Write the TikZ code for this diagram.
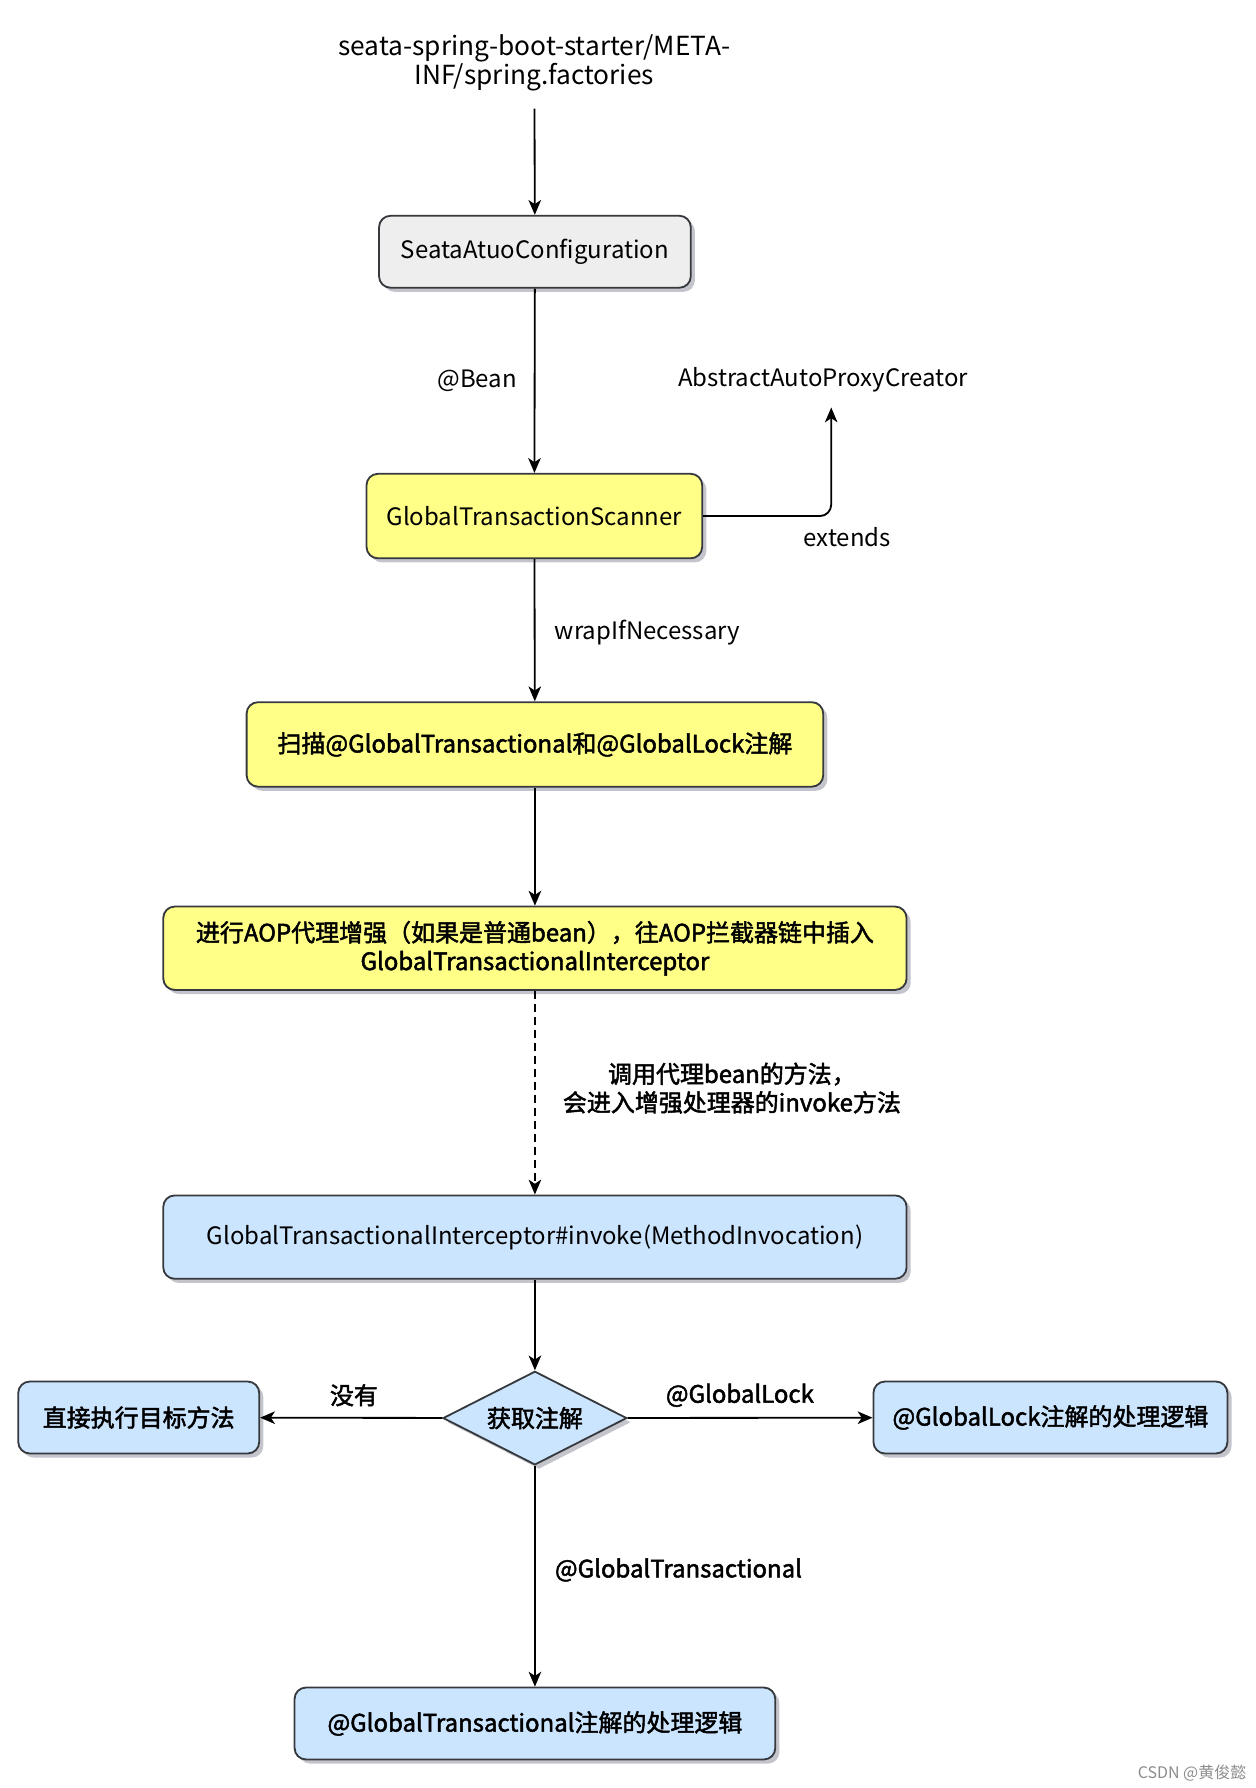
\documentclass[tikz,border=0pt]{standalone}
\usepackage{fontspec}
\setmainfont{Noto Sans CJK SC}
\newfontface\heavyface{Noto Sans CJK SC}[FakeBold=2]
\usetikzlibrary{shapes.geometric,arrows.meta,shadows}
\definecolor{boxgray}{HTML}{EEEEEE}
\definecolor{boxyellow}{HTML}{FFFF88}
\definecolor{boxblue}{HTML}{CCE5FF}
\definecolor{boxline}{HTML}{36393D}
\definecolor{shadowgray}{HTML}{3A3F55}

\begin{document}
\begin{tikzpicture}[x=0.5pt,y=-0.5pt,
    font=\fontsize{10.5}{12.5}\selectfont,
    every node/.style={align=center},
    box/.style={draw=boxline,line width=0.8pt,rounded corners=5pt,inner sep=0pt,
        drop shadow={shadow xshift=1.8pt,shadow yshift=-1.8pt,opacity=0.3,fill=shadowgray}},
    graybox/.style={box,fill=boxgray},
    yellowbox/.style={box,fill=boxyellow},
    bluebox/.style={box,fill=boxblue},
    decision/.style={diamond,aspect=2,draw=boxline,line width=0.8pt,fill=boxblue,inner sep=0pt,
        drop shadow={shadow xshift=1.8pt,shadow yshift=-1.8pt,opacity=0.3,fill=shadowgray}},
    flow/.style={line width=0.8pt,-{Stealth[length=6.5pt,width=5.5pt,inset=1.8pt]}},
    hint/.style={font=\heavyface\fontsize{10.5}{12.5}\selectfont}]
 \useasboundingbox (0,0) rectangle (1100,1566);

 \node[font=\fontsize{11.5}{13}\selectfont] (factories) at (468,55) {seata-spring-boot-starter/META-\\INF/spring.factories};
 \node[graybox,minimum width=136.5pt,minimum height=31.5pt] (conf) at (468.5,220.5) {SeataAtuoConfiguration};
 \node[yellowbox,minimum width=147pt,minimum height=37pt] (scanner) at (468,452) {GlobalTransactionScanner};
 \node (proxy) at (721,333) {AbstractAutoProxyCreator};
 \node[yellowbox,hint,minimum width=252.5pt,minimum height=37pt] (scan) at (468.5,652) {扫描@GlobalTransactional和@GlobalLock注解};
 \node[yellowbox,hint,minimum width=325.5pt,minimum height=36.5pt] (aop) at (468.5,830.5)
     {进行AOP代理增强（如果是普通bean），往AOP拦截器链中插入\\GlobalTransactionalInterceptor};
 \node[bluebox,minimum width=325.5pt,minimum height=36.5pt] (invoke) at (468.5,1083.5)
     {GlobalTransactionalInterceptor\#invoke(MethodInvocation)};
 \node[decision,hint,minimum width=80.5pt,minimum height=41pt] (getanno) at (468.5,1242) {获取注解};
 \node[bluebox,hint,minimum width=105.5pt,minimum height=31.5pt] (direct) at (121.5,1241.5) {直接执行目标方法};
 \node[bluebox,hint,minimum width=155pt,minimum height=31.5pt] (lock) at (920,1241.5) {@GlobalLock注解的处理逻辑};
 \node[bluebox,hint,minimum width=210.5pt,minimum height=31.5pt] (trans) at (468.5,1509.5) {@GlobalTransactional注解的处理逻辑};

 \draw[flow,shorten <=4pt] (factories) -- (conf);
 \draw[flow] (conf) -- (scanner) node[pos=.5,left=4pt] {@Bean};
 \draw[flow,rounded corners=5pt,shorten >=3pt] (scanner.east) -| ([xshift=3.5pt]proxy.south);
 \node at (742,470) {extends};
 \draw[flow] (scanner) -- (scan);
 \node[anchor=west] at (479,554) {wrapIfNecessary};
 \draw[flow] (scan) -- (aop);
 \draw[flow,dash pattern={on 3.5pt off 2.2pt}] (aop) -- (invoke);
 \node[hint] at (641,953) {调用代理bean的方法，\\会进入增强处理器的invoke方法};
 \draw[flow] (invoke) -- (getanno);
 \draw[flow] (getanno) -- (direct);
 \node[hint] at (310,1222) {没有};
 \draw[flow] (getanno) -- (lock);
 \node[hint] at (648,1222) {@GlobalLock};
 \draw[flow] (getanno) -- (trans);
 \node[hint,anchor=west] at (479,1375) {@GlobalTransactional};

 \node[text=black!45,font=\fontsize{7}{8}\selectfont] at (1044,1553) {CSDN @黄俊懿};
\end{tikzpicture}
\end{document}
